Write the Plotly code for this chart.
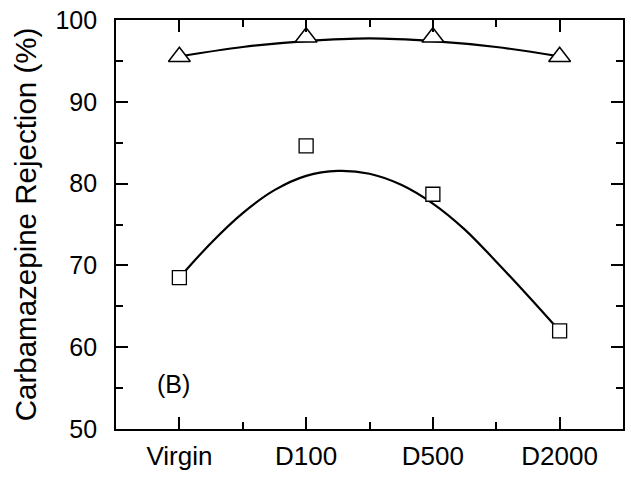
import plotly.graph_objects as go

categories = ["Virgin", "D100", "D500", "D2000"]
triangle_values = [95.5, 97.9, 97.9, 95.5]
square_values = [68.5, 84.6, 78.7, 62.0]

# smooth trend curves (x in category index units)
tri_curve_x = [0.0, 0.5, 1.0, 1.5, 2.0, 2.5, 3.0]
tri_curve_y = [95.55, 96.7, 97.42, 97.75, 97.42, 96.7, 95.55]
sq_curve_x = [0.0, 0.25, 0.5, 0.75, 1.0, 1.25, 1.5, 1.75, 2.0, 2.25, 2.5, 2.75, 3.0]
sq_curve_y = [68.5, 72.75, 76.4, 79.2, 80.95, 81.55, 81.2, 79.85, 77.55, 74.4,
              70.45, 66.3, 62.0]

xpos = list(range(len(categories)))
FONT = "Liberation Sans, Arial, sans-serif"

fig = go.Figure()
fig.add_trace(go.Scatter(x=tri_curve_x, y=tri_curve_y, mode="lines",
                         line=dict(color="black", width=2.2, shape="spline", smoothing=1),
                         showlegend=False, hoverinfo="skip"))
fig.add_trace(go.Scatter(x=sq_curve_x, y=sq_curve_y, mode="lines",
                         line=dict(color="black", width=2.2, shape="spline", smoothing=1),
                         showlegend=False, hoverinfo="skip"))
fig.add_trace(go.Scatter(x=xpos, y=triangle_values, mode="markers",
                         marker=dict(symbol="triangle-up", size=19, color="white",
                                     line=dict(color="black", width=1.5)),
                         showlegend=False))
fig.add_trace(go.Scatter(x=xpos, y=square_values, mode="markers",
                         marker=dict(symbol="square", size=14, color="white",
                                     line=dict(color="black", width=1.3)),
                         showlegend=False))

fig.add_annotation(x=-0.047, y=55.5, xref="x", yref="y", text="(B)", showarrow=False,
                   font=dict(family=FONT, size=25, color="black"))

fig.update_layout(
    width=631, height=477,
    margin=dict(l=116, r=6, t=20, b=45),
    paper_bgcolor="white", plot_bgcolor="white",
    font=dict(family=FONT, color="black"),
    showlegend=False,
)
fig.update_xaxes(
    range=[-0.5, 3.5], tickmode="array", tickvals=xpos, ticktext=categories,
    ticks="inside", ticklen=12, tickwidth=1.8, tickcolor="black",
    minor=dict(tickmode="array", tickvals=[0.5, 1.5, 2.5], ticks="inside",
               ticklen=7, tickwidth=1.8, tickcolor="black"),
    showline=True, linecolor="black", linewidth=1.8, mirror="ticks",
    showgrid=False, zeroline=False, tickfont=dict(family=FONT, size=26),
    ticklabelstandoff=3,
)
fig.update_yaxes(
    range=[50, 100], tickmode="array", tickvals=[50, 60, 70, 80, 90, 100],
    ticks="inside", ticklen=12, tickwidth=1.8, tickcolor="black",
    minor=dict(tickmode="array", tickvals=[55, 65, 75, 85, 95], ticks="inside",
               ticklen=7, tickwidth=1.8, tickcolor="black"),
    showline=True, linecolor="black", linewidth=1.8, mirror="ticks",
    showgrid=False, zeroline=False, tickfont=dict(family=FONT, size=25),
    ticklabelstandoff=12,
    title=dict(text="Carbamazepine Rejection (%)", font=dict(family=FONT, size=29.5),
               standoff=10),
)

fig.write_html("out.html")
